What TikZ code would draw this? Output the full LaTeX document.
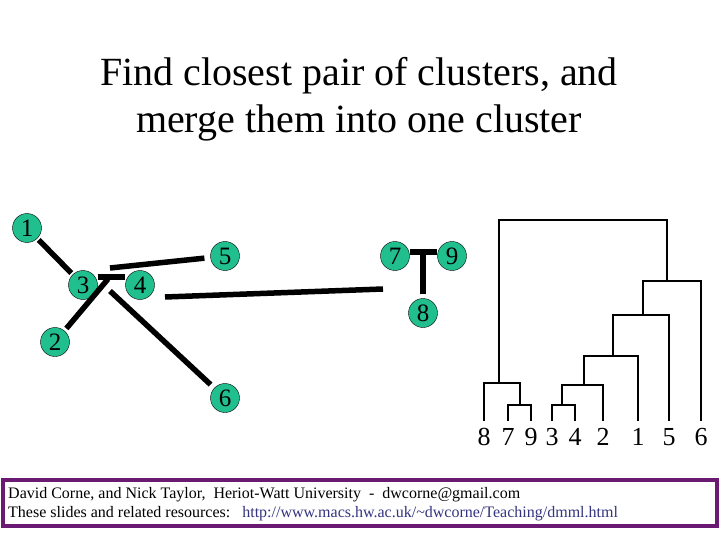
\documentclass[tikz,border=0pt]{standalone}
\usepackage{fontspec}
\setmainfont{Liberation Serif}
\usepackage{tikz}
\usetikzlibrary{positioning}
\definecolor{ClusterGreen}{HTML}{21BF8E}
\definecolor{FooterPurple}{HTML}{6B1A73}
\definecolor{LinkBlue}{HTML}{34347F}

\begin{document}
\begin{tikzpicture}[x=1pt,y=-1pt,
    point/.style={circle,draw=black,fill=ClusterGreen,minimum size=29pt,inner sep=0pt,
      font=\fontsize{25}{25}\selectfont},
    link/.style={line width=5.5pt},
    tree/.style={line width=1.3pt},
    leaf/.style={anchor=base,inner sep=0pt,font=\fontsize{26}{26}\selectfont}]
  \useasboundingbox (0,0) rectangle (720,540);
  \node[anchor=base,font=\fontsize{40}{48}\selectfont] (title1) at (359,86)
    {Find closest pair of clusters, and};
  \node[anchor=base,font=\fontsize{40}{48}\selectfont] (title2) at (359,133)
    {merge them into one cluster};
  \node[point] (p1) at (27,228) {1};
  \node[point] (p2) at (55,342) {2};
  \node[point] (p3) at (83,285) {3};
  \node[point] (p4) at (140,285) {4};
  \node[point] (p5) at (225,256) {5};
  \node[point] (p6) at (225,398) {6};
  \node[point] (p7) at (395,256) {7};
  \node[point] (p8) at (423,313) {8};
  \node[point] (p9) at (452,256) {9};
  \coordinate (m34) at (108,279);
  \coordinate (c5) at (110,268);
  \coordinate (c6) at (110,291);
  \coordinate (c4) at (165,297);
  \coordinate (c8) at (383,289);
  \coordinate (m79) at (423,252);
  \draw[link,shorten <=2pt,shorten >=2pt] (p1) -- (p3);
  \draw[link] ([yshift=8pt]p3.east) -- ([yshift=8pt]p4.west);
  \draw[link,shorten >=6pt] (c5) -- (p5);
  \draw[link,shorten <=3pt] (p2) -- (m34);
  \draw[link,shorten >=5pt] (c6) -- (p6);
  \draw[link] (c4) -- (c8);
  \draw[link] ([yshift=4pt]p7.east) -- ([yshift=4pt]p9.west);
  \draw[link,shorten <=4pt] (p8) -- (m79);
  \foreach \n/\x in {8/484,7/508,9/531,3/552,4/575,2/603,1/638,5/669,6/701} {
    \node[leaf] (l\n) at (\x,445) {\n};
    \coordinate (t\n) at (\x,421);
  }
  \coordinate (j79) at (520,405);
  \coordinate (j8) at (499,383);
  \coordinate (j34) at (562,405);
  \coordinate (j2) at (584,385);
  \coordinate (j1) at (613,356);
  \coordinate (j5) at (643,315);
  \coordinate (j6) at (667,281);
  \coordinate (jtop) at (667,220);
  \draw[tree] (t7) |- (j79) -| (t9);
  \draw[tree] (t8) |- (j8) -| (j79);
  \draw[tree] (t3) |- (j34) -| (t4);
  \draw[tree] (j34) |- (j2) -| (t2);
  \draw[tree] (j2) |- (j1) -| (t1);
  \draw[tree] (j1) |- (j5) -| (t5);
  \draw[tree] (j5) |- (j6) -| (t6);
  \draw[tree] (j8) |- (jtop) -- (j6);
  \node[draw=FooterPurple,line width=4pt,minimum width=714pt,minimum height=46pt,inner sep=0pt]
    (footer) at (360,503) {};
  \node[anchor=base west,inner sep=0pt,font=\fontsize{16}{16}\selectfont] (credit) at (8,498)
    {David Corne, and Nick Taylor,\ \ Heriot-Watt University\ \ -\ \ dwcorne@gmail.com};
  \node[anchor=base west,inner sep=0pt,font=\fontsize{16}{16}\selectfont] (slides) at (8,517)
    {These slides and related resources:\ \ \ \textcolor{LinkBlue}{http://www.macs.hw.ac.uk/\textasciitilde dwcorne/Teaching/dmml.html}};
\end{tikzpicture}
\end{document}
